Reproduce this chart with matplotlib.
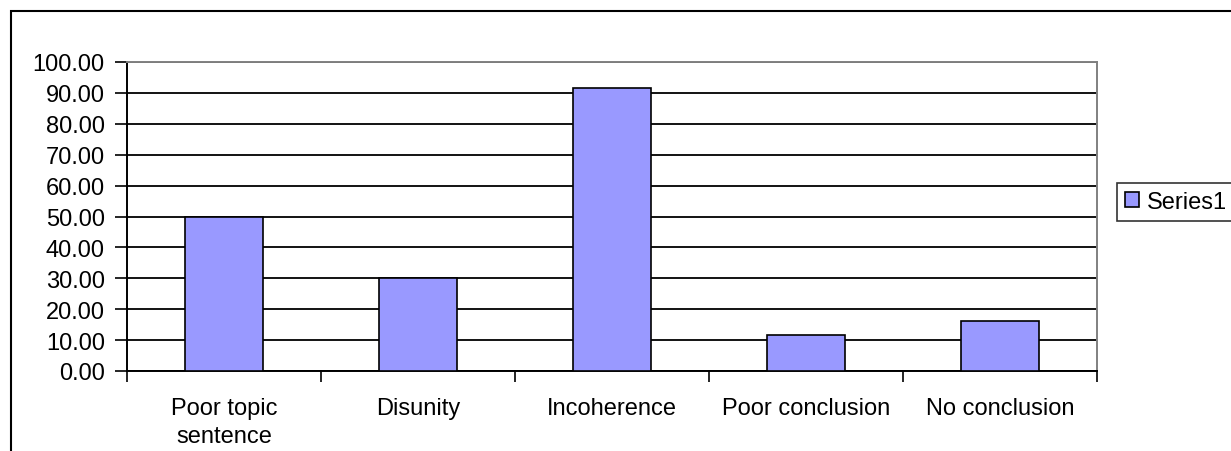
import matplotlib.pyplot as plt
from matplotlib.patches import Rectangle

categories = ["Poor topic\nsentence", "Disunity", "Incoherence", "Poor conclusion", "No conclusion"]
values = [50.0, 30.0, 91.6, 11.7, 16.3]
series_name = "Series1"

plt.rcParams['font.family'] = ['Liberation Sans', 'DejaVu Sans']

fig = plt.figure(figsize=(12.31, 4.52), dpi=100)
W, H = 1231, 452
# plot area in pixels: left 127, right 1097, top 63, bottom 372
ax = fig.add_axes([127 / W, 1 - 372 / H, (1097 - 127) / W, (372 - 63) / H])

# outer chart frame (cut off at right and bottom)
fig.patches.append(Rectangle((11 / W, -0.1), 1.2, 1 - 12 / H + 0.1, transform=fig.transFigure,
                             fill=False, edgecolor='black', linewidth=1.5))

x = list(range(len(categories)))
bars = ax.bar(x, values, width=0.4, color='#9999FF', edgecolor='black', linewidth=1.2,
              label=series_name, zorder=3)

ax.set_xlim(-0.5, len(categories) - 0.5)
ax.set_ylim(0, 100)
ax.set_yticks(range(0, 101, 10))
ax.set_yticklabels([f"{v:.2f}" for v in range(0, 101, 10)])
ax.yaxis.grid(True, color='black', linewidth=1.3, zorder=0)

ax.set_xticks(x)
ax.set_xticklabels(categories)
ax.set_xticks([i - 0.5 for i in range(len(categories) + 1)], minor=True)
ax.tick_params(axis='x', which='major', length=0, pad=19, labelsize=17)
ax.tick_params(axis='x', which='minor', length=8, width=1.2, direction='out')
ax.tick_params(axis='y', length=9, width=1.2, direction='out', pad=7, labelsize=17)
for lab in ax.get_xticklabels():
    lab.set_verticalalignment('top')
    lab.set_linespacing(1.35)

for s in ['left', 'bottom']:
    ax.spines[s].set_color('black')
    ax.spines[s].set_linewidth(1.4)
for s in ['top', 'right']:
    ax.spines[s].set_color('#808080')
    ax.spines[s].set_linewidth(1.4)

leg = fig.legend(handles=[bars], labels=[series_name], loc='center left',
                 bbox_to_anchor=(1117 / W, 1 - 203 / H), fontsize=17, frameon=True,
                 fancybox=False, edgecolor='black', handlelength=0.6, handleheight=0.6,
                 handletextpad=0.3, borderpad=0.35, borderaxespad=0)
leg.get_frame().set_linewidth(1.2)

fig.savefig("out.png", dpi=100)
